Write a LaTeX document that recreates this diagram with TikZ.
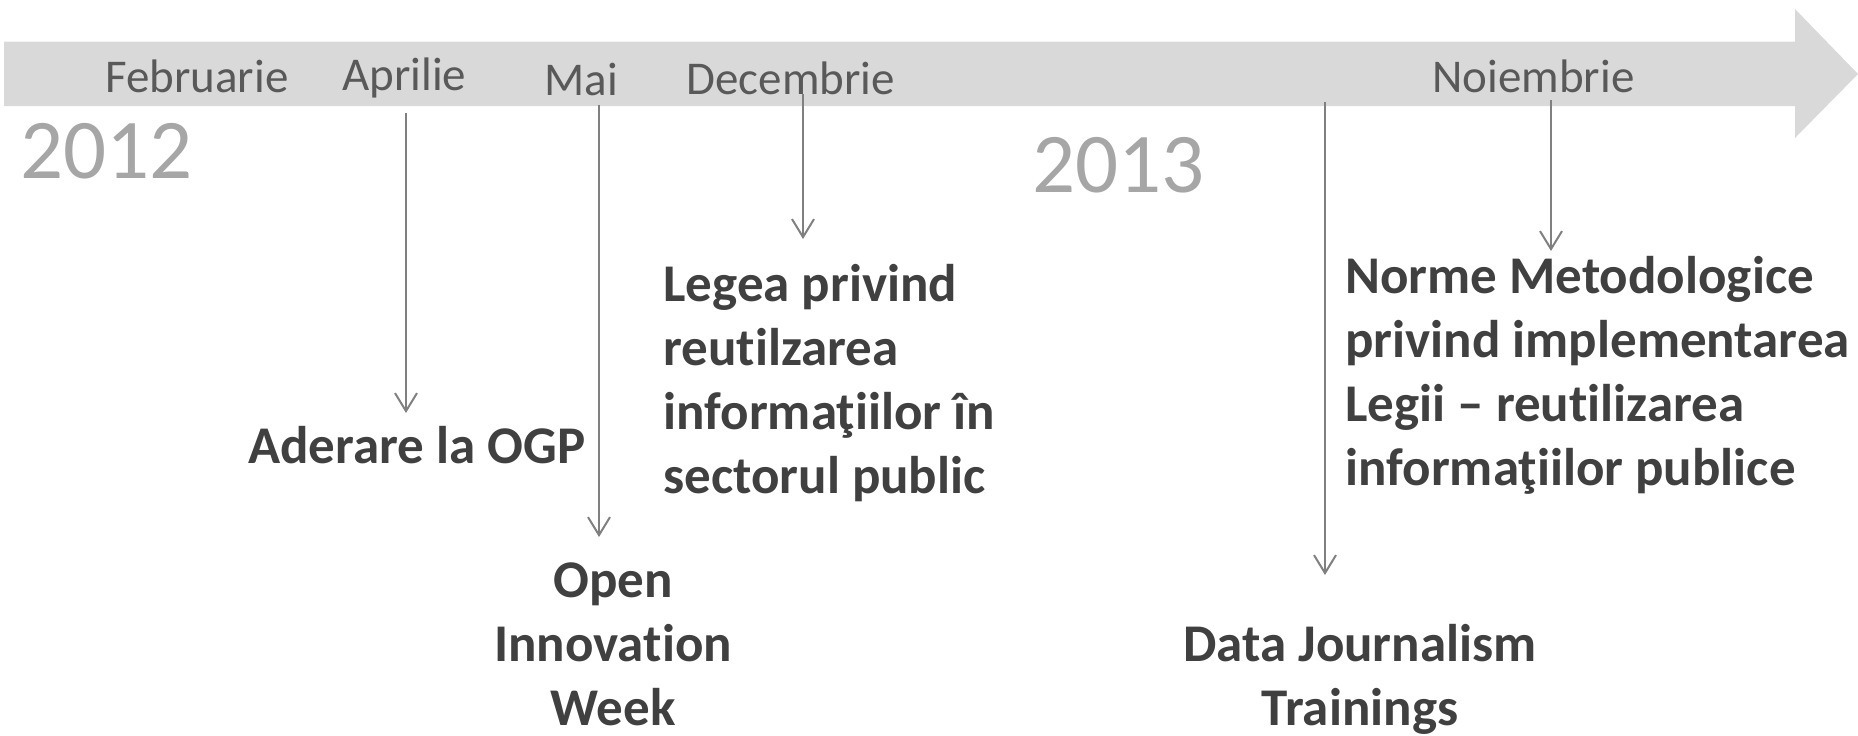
\documentclass[tikz,border=0pt]{standalone}
\usepackage{fontspec}
\setmainfont{Carlito}[Ligatures=NoCommon]
\usetikzlibrary{arrows.meta}
\definecolor{bandc}{HTML}{D9D9D9}
\definecolor{monthc}{HTML}{595959}
\definecolor{yearc}{HTML}{A6A6A6}
\definecolor{eventc}{HTML}{404040}
\definecolor{linec}{HTML}{808080}
\begin{document}
\begin{tikzpicture}[x=0.5pt,y=-0.5pt,
  month/.style={font=\fontsize{23.5}{28}\selectfont, text=monthc, inner sep=0pt, anchor=base west},
  year/.style={font=\fontsize{42.5}{50}\selectfont, text=yearc, inner sep=0pt, anchor=base west},
  event/.style={font=\bfseries\fontsize{26.5}{32}\selectfont, text=eventc, inner sep=0pt},
  conn/.style={draw=linec, line width=1pt, -{Straight Barb[length=9pt,width=11pt]}}]
\useasboundingbox (0,0) rectangle (1858,735);
% timeline arrow
\fill[bandc] (4,41.7) -- (1795,41.7) -- (1795,9) -- (1858,74) -- (1795,138) -- (1795,106) -- (4,106) -- cycle;
% months and years
\node[month] (feb) at (105,92) {Februarie};
\node[month] (apr) at (342,90) {Aprilie};
\node[month] (mai) at (544,95) {Mai};
\node[month] (dec) at (686,94) {Decembrie};
\node[month] (noi) at (1432,92) {Noiembrie};
\node[year] (y12) at (20,178) {2012};
\node[year] (y13) at (1032,192) {2013};
% events (base anchor = baseline of the last line)
\node[event, anchor=base west] (ogp) at (248,463) {Aderare la OGP};
\node[event, anchor=base west, align=left] (lege) at (663,493) {Legea privind\\reutilzarea\\informaţiilor în\\sectorul public};
\node[event, anchor=base west, align=left] (norme) at (1345,485) {Norme Metodologice\\privind implementarea\\Legii – reutilizarea\\informaţiilor publice};
\node[event, anchor=base, align=center] (oiw) at (613,725) {Open\\Innovation\\Week};
\node[event, anchor=base, align=center] (djt) at (1360,725) {Data Journalism\\Trainings};
% connector ends
\coordinate (a1) at (406,113); \coordinate (a2) at (406,413);
\coordinate (m1) at (599,105); \coordinate (m2) at (599,537);
\coordinate (d1) at (803,94);  \coordinate (d2) at (803,239);
\coordinate (j1) at (1325,102); \coordinate (j2) at (1325,575);
\coordinate (n1) at (1551,100); \coordinate (n2) at (1551,251);
\draw[conn] (a1) -- (a2);
\draw[conn] (m1) -- (m2);
\draw[conn] (d1) -- (d2);
\draw[conn] (j1) -- (j2);
\draw[conn] (n1) -- (n2);
\end{tikzpicture}
\end{document}
